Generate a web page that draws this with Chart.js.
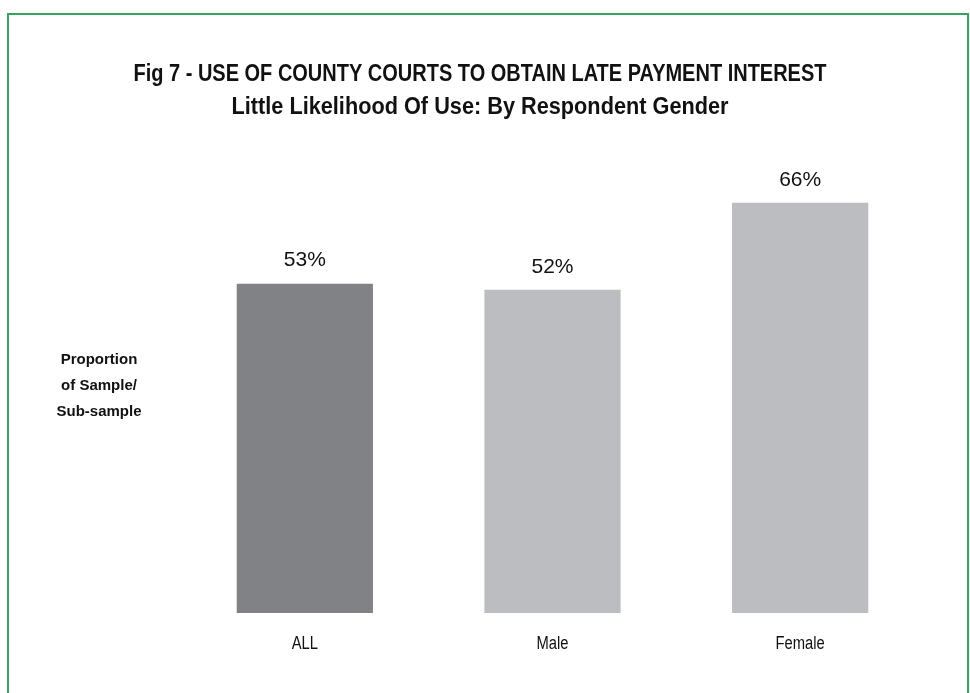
<!DOCTYPE html>
<html>
<head>
<meta charset="utf-8">
<script src="https://cdn.jsdelivr.net/npm/chart.js@4/dist/chart.umd.min.js"></script>
<style>
  html, body { margin: 0; padding: 0; background: #fff; }
  #wrap { width: 970px; height: 693px; position: relative; }
</style>
</head>
<body>
<div id="wrap"><canvas id="myBarChart" width="970" height="693"></canvas></div>
<script>
const categories = ['ALL', 'Male', 'Female'];
const values = [53, 52, 66];
const barColors = ['#818286', '#bcbdc1', '#bcbdc1'];
const titleLines = [
    'Fig 7 - USE OF COUNTY COURTS TO OBTAIN LATE PAYMENT INTEREST',
    'Little Likelihood Of Use: By Respondent Gender'
];
const axisLabel = ['Proportion', 'of Sample/', 'Sub-sample'];

// condensed text: squeeze horizontally around the centre point
function drawSqueezed(ctx, text, cx, cy, sx) {
    ctx.save();
    ctx.translate(cx, cy);
    ctx.scale(sx, 1);
    ctx.fillText(text, 0, 0);
    ctx.restore();
}

// squeeze so the line takes a given width
function drawFitted(ctx, text, cx, cy, width) {
    const w = ctx.measureText(text).width;
    drawSqueezed(ctx, text, cx, cy, width / w);
}

// frame, headings, value labels and category names
const decorations = {
    id: 'decorations',
    afterDraw(chart) {
        const ctx = chart.ctx;
        const xs = chart.scales.x;
        const ys = chart.scales.y;
        ctx.save();

        ctx.strokeStyle = '#35a55a';
        ctx.lineWidth = 2;
        ctx.beginPath();
        ctx.moveTo(8, 700);
        ctx.lineTo(8, 14);
        ctx.lineTo(968, 14);
        ctx.lineTo(968, 700);
        ctx.stroke();

        ctx.fillStyle = '#111';
        ctx.textAlign = 'center';
        ctx.textBaseline = 'middle';
        ctx.font = 'bold 24px "Liberation Sans", Arial, sans-serif';
        drawFitted(ctx, titleLines[0], 480, 74, 693);
        drawFitted(ctx, titleLines[1], 480, 107, 497);

        ctx.font = 'bold 15px "Liberation Sans", Arial, sans-serif';
        axisLabel.forEach(function (t, i) {
            ctx.fillText(t, 99, 360 + i * 26);
        });

        const meta = chart.getDatasetMeta(0);
        ctx.font = '21px "Liberation Sans", Arial, sans-serif';
        meta.data.forEach(function (bar, i) {
            ctx.fillText(values[i] + '%', bar.x, ys.getPixelForValue(values[i]) - 23);
        });

        ctx.font = '18px "Liberation Sans", Arial, sans-serif';
        categories.forEach(function (c, i) {
            drawSqueezed(ctx, c, xs.getPixelForValue(i), ys.bottom + 31, 0.82);
        });
        ctx.restore();
    }
};

new Chart(document.getElementById('myBarChart'), {
    type: 'bar',
    data: {
        labels: categories,
        datasets: [{
            data: values,
            backgroundColor: barColors,
            borderWidth: 0
        }]
    },
    options: {
        responsive: false,
        animation: false,
        layout: { padding: { left: 181, right: 46, top: 178, bottom: 80 } },
        datasets: { bar: { categoryPercentage: 1, barPercentage: 0.55 } },
        scales: {
            x: { display: false },
            y: { display: false, min: 0, max: 70 }
        },
        plugins: {
            legend: { display: false },
            tooltip: { enabled: false }
        }
    },
    plugins: [decorations]
});
</script>
</body>
</html>
